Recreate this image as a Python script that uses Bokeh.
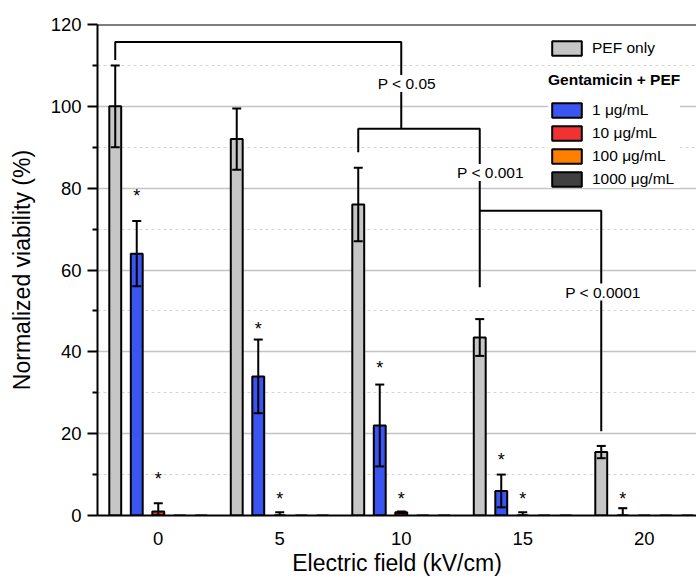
from bokeh.plotting import figure
from bokeh.models import (Range1d, FixedTicker, Whisker, TeeHead, ColumnDataSource,
                          Legend, LegendItem, Label, Span)
from bokeh.embed import file_html
from bokeh.resources import INLINE
from bokeh.core.properties import value

# ---------------- data ----------------
fields = [0, 5, 10, 15, 20]                       # kV/cm
x_tick_labels = {0: "0", 5: "5", 10: "10", 15: "15", 20: "20"}
y_ticks = [0, 20, 40, 60, 80, 100, 120]
y_minor_ticks = [10, 30, 50, 70, 90, 110]

series_names = ["PEF only", "1 \u03bcg/mL", "10 \u03bcg/mL", "100 \u03bcg/mL", "1000 \u03bcg/mL"]
series_colors = ["#c6c6c6", "#3b55f0", "#f23232", "#ff8000", "#404040"]

pef_only = [100, 92, 76, 43.5, 15.5]
pef_only_err = [10, 7.5, 9, 4.5, 1.5]
gent_1 = [64, 34, 22, 6, 0]
gent_1_err = [8, 9, 10, 4, 1.8]
gent_10 = [1, 0, 0.8, 0, 0]
gent_10_err = [2, 0.8, 0.2, 0.8, 0]
gent_100 = [0, 0, 0, 0, 0]
gent_100_err = [0, 0, 0, 0, 0]
gent_1000 = [0, 0, 0, 0, 0]
gent_1000_err = [0, 0, 0, 0, 0]

# asterisks (significant vs PEF only): field, series index, height of the mark
star_field = [0, 0, 5, 5, 10, 10, 15, 15, 20]
star_series = [1, 2, 1, 2, 1, 2, 1, 2, 1]
star_height = [79, 10, 46.7, 5, 37, 5, 14.5, 5, 5]

# significance brackets between PEF-only bars
p_labels = ["P < 0.05", "P < 0.001", "P < 0.0001"]
bracket_left_field = [0, 10, 15]          # left leg sits on the PEF-only bar of this field
bracket_right_field = [10, 15, 20]
bracket_right_on_bar = [False, True, True]
bracket_top = [115.7, 94.5, 74.5]
bracket_left_end = [111.3, 88.8, 74.5]
bracket_right_end = [94.5, 55.8, 20.6]
p_label_x = [10.23, 13.67, 18.3]
p_label_y = [105.6, 83.8, 54.6]

values = [pef_only, gent_1, gent_10, gent_100, gent_1000]
errors = [pef_only_err, gent_1_err, gent_10_err, gent_100_err, gent_1000_err]

# ---------------- layout constants ----------------
SLOT = 0.885
BAR_W = 0.49
FONT = "Liberation Sans"


def bar_x(field, s):
    return field + (s - 2) * SLOT


p = figure(width=696, height=582, x_range=Range1d(-2.5, 22.15), y_range=Range1d(0, 120),
           output_backend="svg", toolbar_location=None,
           min_border_left=97, min_border_right=0, min_border_top=24, min_border_bottom=67)
p.outline_line_color = None
p.background_fill_color = "white"
p.border_fill_color = "white"

# grid
p.xgrid.grid_line_color = None
p.ygrid.ticker = FixedTicker(ticks=y_ticks, minor_ticks=y_minor_ticks)
p.ygrid.grid_line_color = "#c4c4c4"
p.ygrid.grid_line_width = 1.5
p.ygrid.minor_grid_line_color = "#d4d4d4"
p.ygrid.minor_grid_line_dash = "3 3"
p.ygrid.minor_grid_line_width = 1

# bars
renderers = []
for s in range(5):
    src = ColumnDataSource(dict(x=[bar_x(f, s) for f in fields], top=values[s]))
    r = p.vbar(x="x", top="top", width=BAR_W, bottom=0, source=src,
               fill_color=series_colors[s], line_color="black", line_width=2)
    renderers.append(r)

# error bars
wx, wu, wl = [], [], []
for s in range(5):
    for i, f in enumerate(fields):
        e = errors[s][i]
        if e > 0:
            wx.append(bar_x(f, s))
            wu.append(values[s][i] + e)
            wl.append(max(values[s][i] - e, 0))
wsrc = ColumnDataSource(dict(x=wx, upper=wu, lower=wl))
whisk = Whisker(source=wsrc, base="x", upper="upper", lower="lower", dimension="height",
                line_color="black", line_width=2, level="annotation",
                upper_head=TeeHead(size=9, line_width=2, line_color="black"),
                lower_head=TeeHead(size=9, line_width=2, line_color="black"))
p.add_layout(whisk)

# asterisks
sx = [bar_x(f, s) for f, s in zip(star_field, star_series)]
sy = [h - 1.0 for h in star_height]
p.text(x=sx, y=sy, text=["*"] * len(sx), text_font=value(FONT), text_font_size="18px",
       text_align="center", text_baseline="middle", text_color="black")

# brackets
bxs, bys = [], []
for k in range(3):
    lx = bar_x(bracket_left_field[k], 0)
    rx = bar_x(bracket_right_field[k], 0) if bracket_right_on_bar[k] else bracket_right_field[k]
    bxs.append([lx, lx, rx, rx])
    bys.append([bracket_left_end[k], bracket_top[k], bracket_top[k], bracket_right_end[k]])
p.multi_line(xs=bxs, ys=bys, line_color="black", line_width=2)

for k in range(3):
    p.add_layout(Label(x=p_label_x[k], y=p_label_y[k], text=p_labels[k],
                       text_align="center", text_baseline="middle",
                       text_font=FONT, text_font_size="15.5px", text_color="black",
                       background_fill_color="white"))

# top frame line
p.add_layout(Span(location=120, dimension="width", line_color="black", line_width=2))

# axes
p.xaxis.ticker = FixedTicker(ticks=fields)
p.xaxis.major_label_overrides = x_tick_labels
p.xaxis.major_tick_out = 0
p.xaxis.major_tick_in = 0
p.xaxis.minor_tick_out = 0
p.xaxis.minor_tick_in = 0
p.xaxis.axis_line_width = 2
p.xaxis.major_label_standoff = 16
p.xaxis.major_label_text_font = FONT
p.xaxis.major_label_text_font_size = "18.5px"
p.xaxis.major_label_text_color = "black"
p.xaxis.axis_label = "Electric field (kV/cm)"
p.xaxis.axis_label_text_font = FONT
p.xaxis.axis_label_text_font_size = "23px"
p.xaxis.axis_label_text_font_style = "normal"
p.xaxis.axis_label_text_color = "black"
p.xaxis.axis_label_standoff = 2

p.yaxis.ticker = FixedTicker(ticks=y_ticks, minor_ticks=y_minor_ticks)
p.yaxis.major_tick_out = 10
p.yaxis.major_tick_in = 0
p.yaxis.minor_tick_out = 5
p.yaxis.minor_tick_in = 0
p.yaxis.major_tick_line_width = 2
p.yaxis.minor_tick_line_width = 2
p.yaxis.axis_line_width = 2
p.yaxis.major_label_standoff = 6
p.yaxis.major_label_text_font = FONT
p.yaxis.major_label_text_font_size = "18.5px"
p.yaxis.major_label_text_color = "black"
p.yaxis.axis_label = "Normalized viability (%)"
p.yaxis.axis_label_text_font = FONT
p.yaxis.axis_label_text_font_size = "23px"
p.yaxis.axis_label_text_font_style = "normal"
p.yaxis.axis_label_text_color = "black"
p.yaxis.axis_label_standoff = 13

# legends
common = dict(glyph_width=37, glyph_height=18, label_standoff=7, spacing=5, padding=8,
              margin=0, border_line_color=None, background_fill_color="white",
              background_fill_alpha=1.0, label_text_font=FONT, label_text_font_size="15.5px",
              label_text_color="black", label_width=85)
leg1 = Legend(items=[LegendItem(label=series_names[0], renderers=[renderers[0]])],
              location=(451, 458), **common)
leg2 = Legend(items=[LegendItem(label=series_names[s], renderers=[renderers[s]]) for s in range(1, 5)],
              location=(451, 327), title="Gentamicin + PEF", title_text_font=FONT,
              title_text_font_size="15.5px", title_text_font_style="bold",
              title_text_color="black", title_standoff=12, **common)
p.add_layout(leg2)
p.add_layout(leg1)

open("out.html", "w").write(file_html(p, INLINE))
